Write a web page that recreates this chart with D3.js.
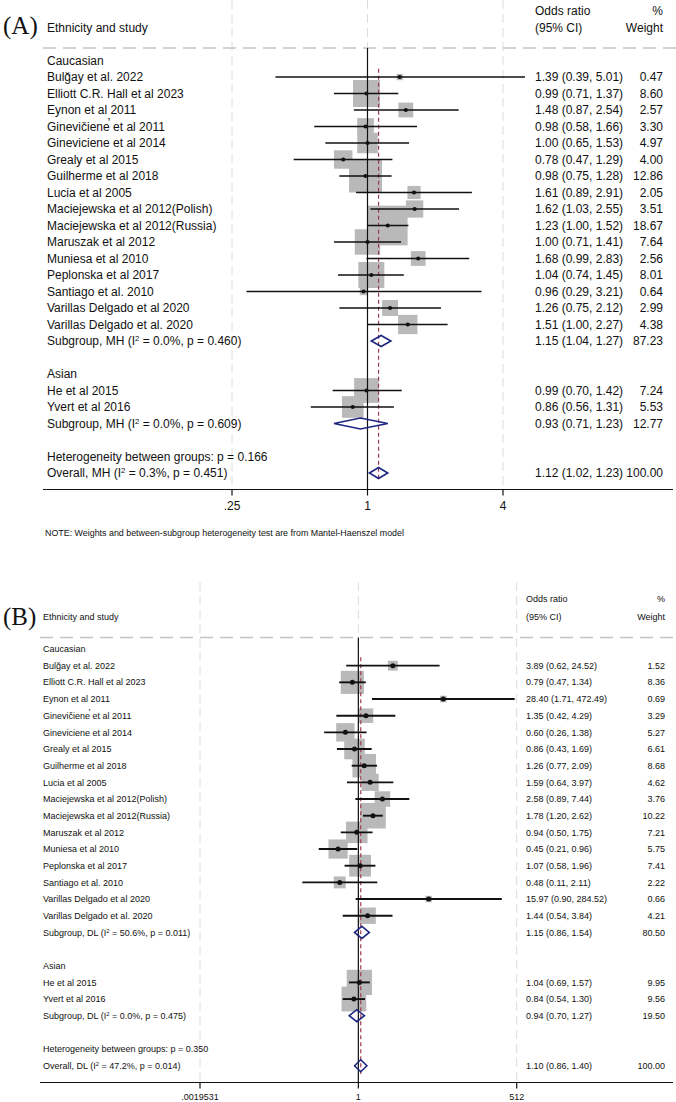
<!DOCTYPE html>
<html>
<head>
<script src="https://d3js.org/d3.v7.min.js"></script>
<style>
  body { margin: 0; background: #fff; }
  text { font-family: "Liberation Sans", Arial, sans-serif; fill: #111; }
  .panel-tag { font-family: "Liberation Serif", "Times New Roman", serif; }
</style>
</head>
<body>
<script>
// ---- row labels (shared layout: 26 rows, "" = blank row) ----
var labelsA = ["Caucasian", "Bulğay et al. 2022", "Elliott C.R. Hall et al 2023", "Eynon et al 2011",
  "Ginevic\u030Ciene\u0315 et al 2011", "Gineviciene et al 2014", "Grealy et al 2015", "Guilherme et al 2018",
  "Lucia et al 2005", "Maciejewska et al 2012(Polish)", "Maciejewska et al 2012(Russia)", "Maruszak et al 2012",
  "Muniesa et al 2010", "Peplonska et al 2017", "Santiago et al. 2010", "Varillas Delgado et al 2020",
  "Varillas Delgado et al. 2020", "Subgroup, MH (I² = 0.0%, p = 0.460)", "",
  "Asian", "He et al 2015", "Yvert et al 2016", "Subgroup, MH (I² = 0.0%, p = 0.609)", "",
  "Heterogeneity between groups: p = 0.166", "Overall, MH (I² = 0.3%, p = 0.451)"];
var labelsB = labelsA.slice();
labelsB[17] = "Subgroup, DL (I² = 50.6%, p = 0.011)";
labelsB[22] = "Subgroup, DL (I² = 0.0%, p = 0.475)";
labelsB[24] = "Heterogeneity between groups: p = 0.350";
labelsB[25] = "Overall, DL (I² = 47.2%, p = 0.014)";

// s = study, d = pooled diamond, null = text only
var rowKind = [null, "s", "s", "s", "s", "s", "s", "s", "s", "s", "s", "s", "s", "s", "s", "s", "s", "d", null,
  null, "s", "s", "d", null, null, "d"];

// ---- panel A (Mantel-Haenszel) ----
var orA = [null, 1.39, 0.99, 1.48, 0.98, 1.00, 0.78, 0.98, 1.61, 1.62, 1.23, 1.00, 1.68, 1.04, 0.96, 1.26, 1.51, 1.15, null,
  null, 0.99, 0.86, 0.93, null, null, 1.12];
var loA = [null, 0.39, 0.71, 0.87, 0.58, 0.65, 0.47, 0.75, 0.89, 1.03, 1.00, 0.71, 0.99, 0.74, 0.29, 0.75, 1.00, 1.04, null,
  null, 0.70, 0.56, 0.71, null, null, 1.02];
var hiA = [null, 5.01, 1.37, 2.54, 1.66, 1.53, 1.29, 1.28, 2.91, 2.55, 1.52, 1.41, 2.83, 1.45, 3.21, 2.12, 2.27, 1.27, null,
  null, 1.42, 1.31, 1.23, null, null, 1.23];
var wA = [null, 0.47, 8.60, 2.57, 3.30, 4.97, 4.00, 12.86, 2.05, 3.51, 18.67, 7.64, 2.56, 8.01, 0.64, 2.99, 4.38, 87.23, null,
  null, 7.24, 5.53, 12.77, null, null, 100.00];
var ticksA = [0.25, 1, 4];
var tickLabelsA = [".25", "1", "4"];

// ---- panel B (DerSimonian-Laird) ----
var orB = [null, 3.89, 0.79, 28.40, 1.35, 0.60, 0.86, 1.26, 1.59, 2.58, 1.78, 0.94, 0.45, 1.07, 0.48, 15.97, 1.44, 1.15, null,
  null, 1.04, 0.84, 0.94, null, null, 1.10];
var loB = [null, 0.62, 0.47, 1.71, 0.42, 0.26, 0.43, 0.77, 0.64, 0.89, 1.20, 0.50, 0.21, 0.58, 0.11, 0.90, 0.54, 0.86, null,
  null, 0.69, 0.54, 0.70, null, null, 0.86];
var hiB = [null, 24.52, 1.34, 472.49, 4.29, 1.38, 1.69, 2.09, 3.97, 7.44, 2.62, 1.75, 0.96, 1.96, 2.11, 284.52, 3.84, 1.54, null,
  null, 1.57, 1.30, 1.27, null, null, 1.40];
var wB = [null, 1.52, 8.36, 0.69, 3.29, 5.27, 6.61, 8.68, 4.62, 3.76, 10.22, 7.21, 5.75, 7.41, 2.22, 0.66, 4.21, 80.50, null,
  null, 9.95, 9.56, 19.50, null, null, 100.00];
var ticksB = [1 / 512, 1, 512];
var tickLabelsB = [".0019531", "1", "512"];

var svg = d3.select("body").append("svg")
  .attr("width", 676)
  .attr("height", 1102);

var f2 = d3.format(".2f");

// text with a small superscript for the "I²" labels
function richText(sel, str) {
  var parts = str.split("²");
  sel.append("tspan").text(parts[0]);
  if (parts.length > 1) {
    sel.append("tspan").attr("baseline-shift", "super").attr("font-size", "65%").text("2");
    sel.append("tspan").text(parts[1]);
  }
}

function drawPanel(p) {
  var g = svg.append("g");
  var x = d3.scaleLog().domain(p.domain).range(p.range);
  var y = d3.scaleLinear().domain([0, 25]).range(p.rows);
  var step = y(1) - y(0);
  var idx = d3.range(p.labels.length);
  var studies = idx.filter(function(i) { return rowKind[i] === "s"; });
  var pooled = idx.filter(function(i) { return rowKind[i] === "d"; });
  var overall = p.or[25];

  // panel tag and headers
  g.append("text").attr("class", "panel-tag").attr("x", 3).attr("y", p.tagY)
    .attr("font-size", 25).text(p.tag);
  g.append("text").attr("x", p.labelX).attr("y", p.head2Y).attr("font-size", p.fs).text("Ethnicity and study");
  g.append("text").attr("x", p.ciX).attr("y", p.head1Y).attr("font-size", p.fs).text("Odds ratio");
  g.append("text").attr("x", p.ciX).attr("y", p.head2Y).attr("font-size", p.fs).text("(95% CI)");
  g.append("text").attr("x", p.wX).attr("y", p.head1Y).attr("font-size", p.fs).attr("text-anchor", "end").text("%");
  g.append("text").attr("x", p.wX).attr("y", p.head2Y).attr("font-size", p.fs).attr("text-anchor", "end").text("Weight");

  // light dashed grid at the ticks
  g.selectAll(".grid").data(p.ticks).enter().append("line")
    .attr("x1", function(d) { return x(d); }).attr("x2", function(d) { return x(d); })
    .attr("y1", p.gridTop).attr("y2", p.axisY)
    .attr("stroke", "#dcdcdc").attr("stroke-width", 1).attr("stroke-dasharray", "9,5");

  // header separator
  g.append("line").attr("x1", p.axisX0).attr("x2", 676).attr("y1", p.sepY).attr("y2", p.sepY)
    .attr("stroke", "#c4c4c4").attr("stroke-width", 1.3).attr("stroke-dasharray", "13,7");

  // weight boxes
  g.selectAll(".box").data(studies).enter().append("rect")
    .attr("x", function(i) { return x(p.or[i]) - p.boxK * Math.sqrt(p.w[i]) / 2; })
    .attr("y", function(i) { return y(i) - p.boxK * Math.sqrt(p.w[i]) / 2; })
    .attr("width", function(i) { return p.boxK * Math.sqrt(p.w[i]); })
    .attr("height", function(i) { return p.boxK * Math.sqrt(p.w[i]); })
    .attr("fill", "#b9b9b9");

  // null line and overall effect line
  g.append("line").attr("x1", x(1)).attr("x2", x(1)).attr("y1", p.sepY).attr("y2", p.axisY)
    .attr("stroke", "#111").attr("stroke-width", 1.2);
  g.append("line").attr("x1", x(overall)).attr("x2", x(overall))
    .attr("y1", y(1) - step / 2).attr("y2", y(25) + step / 2)
    .attr("stroke", "#9e3b4c").attr("stroke-width", 1.2).attr("stroke-dasharray", "4,3");

  // CIs and point estimates
  g.selectAll(".ci").data(studies).enter().append("line")
    .attr("x1", function(i) { return x(p.lo[i]); }).attr("x2", function(i) { return x(p.hi[i]); })
    .attr("y1", function(i) { return y(i); }).attr("y2", function(i) { return y(i); })
    .attr("stroke", "#111").attr("stroke-width", p.ciW);
  g.selectAll(".dot").data(studies).enter().append("circle")
    .attr("cx", function(i) { return x(p.or[i]); }).attr("cy", function(i) { return y(i); })
    .attr("r", p.dotR).attr("fill", "#111");

  // pooled diamonds
  g.selectAll(".diamond").data(pooled).enter().append("path")
    .attr("d", function(i) {
      var cy = y(i), h = p.diaH;
      return "M" + x(p.lo[i]) + "," + cy + "L" + x(p.or[i]) + "," + (cy - h) +
        "L" + x(p.hi[i]) + "," + cy + "L" + x(p.or[i]) + "," + (cy + h) + "Z";
    })
    .attr("fill", "none").attr("stroke", "#1d2680").attr("stroke-width", 1.6);

  // left labels
  g.selectAll(".lab").data(idx.filter(function(i) { return p.labels[i] !== ""; })).enter().append("text")
    .attr("x", p.labelX).attr("y", function(i) { return y(i); }).attr("dy", "0.35em")
    .attr("font-size", p.fs)
    .each(function(i) { richText(d3.select(this), p.labels[i]); });

  // right columns
  var est = studies.concat(pooled);
  g.selectAll(".ci-txt").data(est).enter().append("text")
    .attr("x", p.ciX).attr("y", function(i) { return y(i); }).attr("dy", "0.35em").attr("font-size", p.fs)
    .text(function(i) { return f2(p.or[i]) + " (" + f2(p.lo[i]) + ", " + f2(p.hi[i]) + ")"; });
  g.selectAll(".w-txt").data(est).enter().append("text")
    .attr("x", p.wX).attr("y", function(i) { return y(i); }).attr("dy", "0.35em").attr("font-size", p.fs)
    .attr("text-anchor", "end")
    .text(function(i) { return f2(p.w[i]); });

  // x axis
  g.append("line").attr("x1", p.axisX0).attr("x2", 673).attr("y1", p.axisY).attr("y2", p.axisY)
    .attr("stroke", "#111").attr("stroke-width", 1.2);
  g.selectAll(".tick").data(p.ticks).enter().append("line")
    .attr("x1", function(d) { return x(d); }).attr("x2", function(d) { return x(d); })
    .attr("y1", p.axisY).attr("y2", p.axisY + 6)
    .attr("stroke", "#111").attr("stroke-width", 1.2);
  g.selectAll(".tick-lab").data(p.ticks).enter().append("text")
    .attr("x", function(d) { return x(d); }).attr("y", p.axisY + p.tickOff)
    .attr("text-anchor", "middle").attr("font-size", p.fs)
    .text(function(d, k) { return p.tickLabels[k]; });
}

drawPanel({
  tag: "(A)", tagY: 34, labels: labelsA, or: orA, lo: loA, hi: hiA, w: wA,
  ticks: ticksA, tickLabels: tickLabelsA,
  domain: [0.25, 4], range: [232, 503], rows: [60.5, 473],
  fs: 12, labelX: 47, ciX: 535, wX: 663, head1Y: 15, head2Y: 32,
  gridTop: 0, sepY: 48, axisY: 489.5, axisX0: 43, tickOff: 20.5,
  boxK: 9.2, ciW: 1.5, dotR: 2.1, diaH: 5.5
});

svg.append("text").attr("x", 45).attr("y", 535.5).attr("font-size", 8.9)
  .text("NOTE: Weights and between-subgroup heterogeneity test are from Mantel-Haenszel model");

drawPanel({
  tag: "(B)", tagY: 625, labels: labelsB, or: orB, lo: loB, hi: hiB, w: wB,
  ticks: ticksB, tickLabels: tickLabelsB,
  domain: [1 / 512, 512], range: [200, 516.7], rows: [649, 1065.75],
  fs: 9, labelX: 43, ciX: 526, wX: 665, head1Y: 602, head2Y: 619.5,
  gridTop: 582, sepY: 637.5, axisY: 1082.5, axisX0: 40, tickOff: 17.5,
  boxK: 8, ciW: 1.9, dotR: 2.5, diaH: 6
});
</script>
</body>
</html>
